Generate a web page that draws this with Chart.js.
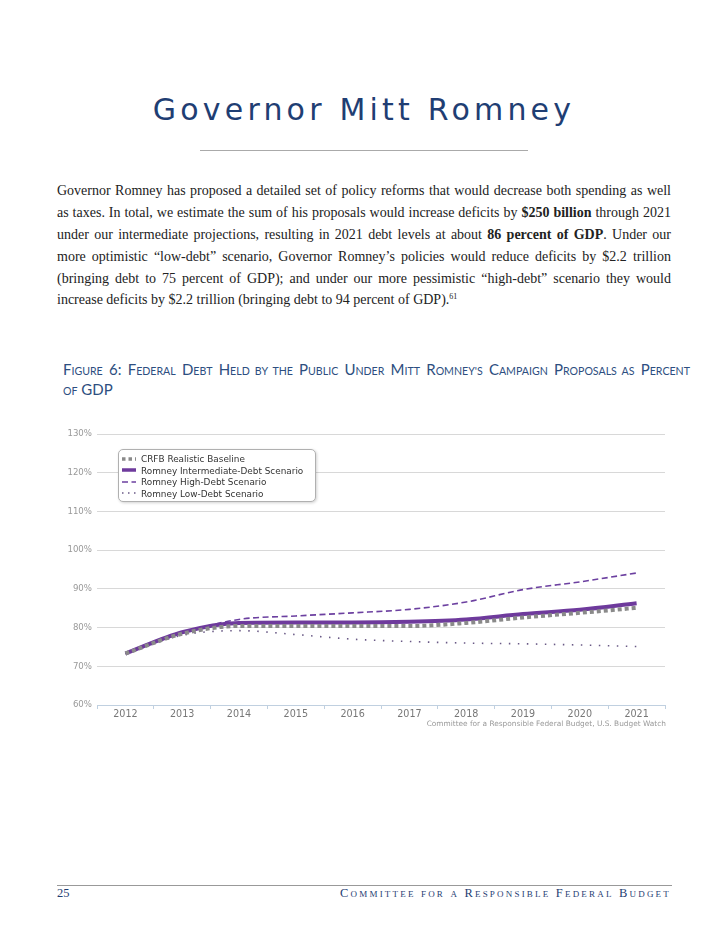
<!DOCTYPE html>
<html>
<head>
<meta charset="utf-8">
<script src="https://cdn.jsdelivr.net/npm/chart.js@4/dist/chart.umd.min.js"></script>
<style>
  html, body { margin:0; padding:0; background:#fff; }
  body { width:728px; height:943px; position:relative; overflow:hidden; }
  .abs { position:absolute; }
  #title { left:0; width:728px; top:92px; text-align:center; font-family:"DejaVu Sans", sans-serif; font-weight:400; font-size:30px; letter-spacing:4.2px; color:#1F3E73; }
  #titleRule { left:200px; top:150px; width:328px; height:1px; background:#aaa; }
  #para { left:57px; top:180px; width:614px; font-family:"Liberation Serif", serif; font-size:14px; color:#222; }
  #para div { height:21.9px; line-height:21.9px; text-align:justify; text-align-last:justify; }
  #para div.last { text-align-last:left; }
  #para sup { font-size:8px; vertical-align:5px; line-height:0; }
  #caption { left:63px; top:359px; width:627px; font-family:"Lato", sans-serif; font-size:15px; line-height:20px; color:#2D4E80; }
  #caption div { height:20px; white-space:nowrap; }
  #caption .j { text-align:justify; text-align-last:justify; white-space:normal; }
  .sc { font-size:10.6px; }
  #chartBox { left:55px; top:420px; width:640px; height:310px; }
  #legend { left:118px; top:449px; width:196px; height:51px; border:1px solid #b0b0b0; border-radius:5px; box-shadow:1px 1px 3px rgba(0,0,0,0.18); background:#fff; font-family:"DejaVu Sans", sans-serif; font-size:8.9px; color:#333; }
  .li { position:absolute; left:3px; height:11.5px; line-height:11.5px; white-space:nowrap; }
  .li canvas { vertical-align:middle; margin-right:5px; position:relative; top:-1px; }
  #credits { right:62px; top:719px; font-family:"DejaVu Sans", sans-serif; font-size:7.4px; color:#999; }
  #footRule { left:57px; top:885px; width:615px; height:1px; background:#999; }
  #pageNum { left:57px; top:886px; font-family:"Liberation Serif", serif; font-size:12.5px; color:#1F3E73; }
  #footText { right:57px; top:886px; font-family:"Liberation Serif", serif; font-variant:small-caps; font-size:12.5px; letter-spacing:2.2px; color:#1F3E73; }
</style>
</head>
<body>
<div id="title" class="abs">Governor Mitt Romney</div>
<div id="titleRule" class="abs"></div>
<div id="para" class="abs">
  <div>Governor Romney has proposed a detailed set of policy reforms that would decrease both spending as well</div>
  <div>as taxes. In total, we estimate the sum of his proposals would increase deficits by <b>$250 billion</b> through 2021</div>
  <div>under our intermediate projections, resulting in 2021 debt levels at about <b>86 percent of GDP</b>. Under our</div>
  <div>more optimistic “low-debt” scenario, Governor Romney’s policies would reduce deficits by $2.2 trillion</div>
  <div>(bringing debt to 75 percent of GDP); and under our more pessimistic “high-debt” scenario they would</div>
  <div class="last">increase deficits by $2.2 trillion (bringing debt to 94 percent of GDP).<sup>61</sup></div>
</div>
<div id="caption" class="abs">
  <div class="j">F<span class="sc">IGURE</span> 6: F<span class="sc">EDERAL</span> D<span class="sc">EBT</span> H<span class="sc">ELD BY THE</span> P<span class="sc">UBLIC</span> U<span class="sc">NDER</span> M<span class="sc">ITT</span> R<span class="sc">OMNEY'S</span> C<span class="sc">AMPAIGN</span> P<span class="sc">ROPOSALS AS</span> P<span class="sc">ERCENT</span></div>
  <div><span class="sc">OF</span> GDP</div>
</div>
<div id="chartBox" class="abs"><canvas id="c"></canvas></div>
<div id="legend" class="abs"></div>
<div id="credits" class="abs">Committee for a Responsible Federal Budget, U.S. Budget Watch</div>
<div id="footRule" class="abs"></div>
<div id="pageNum" class="abs">25</div>
<div id="footText" class="abs">Committee for a Responsible Federal Budget</div>

<script>
const years = ["2012","2013","2014","2015","2016","2017","2018","2019","2020","2021"];
const seriesNames = ["CRFB Realistic Baseline","Romney Intermediate-Debt Scenario","Romney High-Debt Scenario","Romney Low-Debt Scenario"];
const baseline     = [73.3, 78.4, 80.4, 80.4, 80.4, 80.4, 81.2, 82.6, 83.8, 85.1];
const intermediate = [73.3, 78.8, 81.2, 81.3, 81.3, 81.5, 82.1, 83.5, 84.6, 86.3];
const highDebt     = [73.3, 78.6, 82.1, 83.0, 83.8, 84.7, 86.6, 89.8, 91.8, 94.1];
const lowDebt      = [73.3, 78.0, 79.2, 78.2, 77.0, 76.4, 76.0, 75.8, 75.5, 75.1];
const yTicks = [60, 70, 80, 90, 100, 110, 120, 130];

const styles = [
  {color:"#8a8a8a", width:4,   dash:[4,3]},
  {color:"#6E3A9C", width:4,   dash:[]},
  {color:"#6C40A0", width:1.6, dash:[6,3.5]},
  {color:"#6A5A86", width:1.6, dash:[1.5,7.5]}
];
const values = [baseline, intermediate, highDebt, lowDebt];

const datasets = values.map((v,i)=>({
  label: seriesNames[i],
  data: v,
  borderColor: styles[i].color,
  backgroundColor: styles[i].color,
  borderWidth: styles[i].width,
  borderDash: styles[i].dash,
  borderCapStyle: 'butt',
  pointRadius: 0,
  fill: false,
  cubicInterpolationMode: 'monotone'
}));

Chart.defaults.font.family = '"DejaVu Sans", sans-serif';
new Chart(document.getElementById('c'), {
  type: 'line',
  data: { labels: years, datasets },
  options: {
    responsive: true,
    maintainAspectRatio: false,
    animation: false,
    layout: { padding: { left: 0, right: 30, top: 14, bottom: 0 } },
    plugins: { legend: { display: false }, tooltip: { enabled: false } },
    scales: {
      x: {
        offset: true,
        grid: { display: true, drawOnChartArea: false, drawTicks: true, tickLength: 4, color: '#C0D0E0', offset: true },
        border: { display: true, color: '#C0D0E0' },
        ticks: { color: '#777', font: { size: 9.6 }, padding: 0, maxRotation: 0 },
        afterFit: s => { s.height = 25; }
      },
      y: {
        min: 60, max: 130,
        afterBuildTicks: s => { s.ticks = yTicks.map(v => ({ value: v })); },
        grid: { color: '#D8D8D8', drawTicks: false, lineWidth: 1 },
        border: { display: false },
        ticks: { color: '#999', font: { size: 8.6 }, padding: 5, callback: v => v + '%' },
        afterFit: s => { s.width = 42; }
      }
    }
  }
});

// legend (HTML box, samples drawn in the series' own styles)
const leg = document.getElementById('legend');
seriesNames.forEach((name, i) => {
  const row = document.createElement('div');
  row.className = 'li';
  row.style.top = (4 + i * 11.5) + 'px';
  const cv = document.createElement('canvas');
  cv.width = 14; cv.height = 8;
  const ctx = cv.getContext('2d');
  ctx.strokeStyle = styles[i].color;
  ctx.lineWidth = Math.min(styles[i].width, 3.5);
  ctx.setLineDash(i === 3 ? [1.5, 4.5] : (i === 0 ? [3.5, 3] : styles[i].dash));
  ctx.beginPath(); ctx.moveTo(0, 4); ctx.lineTo(14, 4); ctx.stroke();
  row.appendChild(cv);
  row.appendChild(document.createTextNode(name));
  leg.appendChild(row);
});
</script>
</body>
</html>
